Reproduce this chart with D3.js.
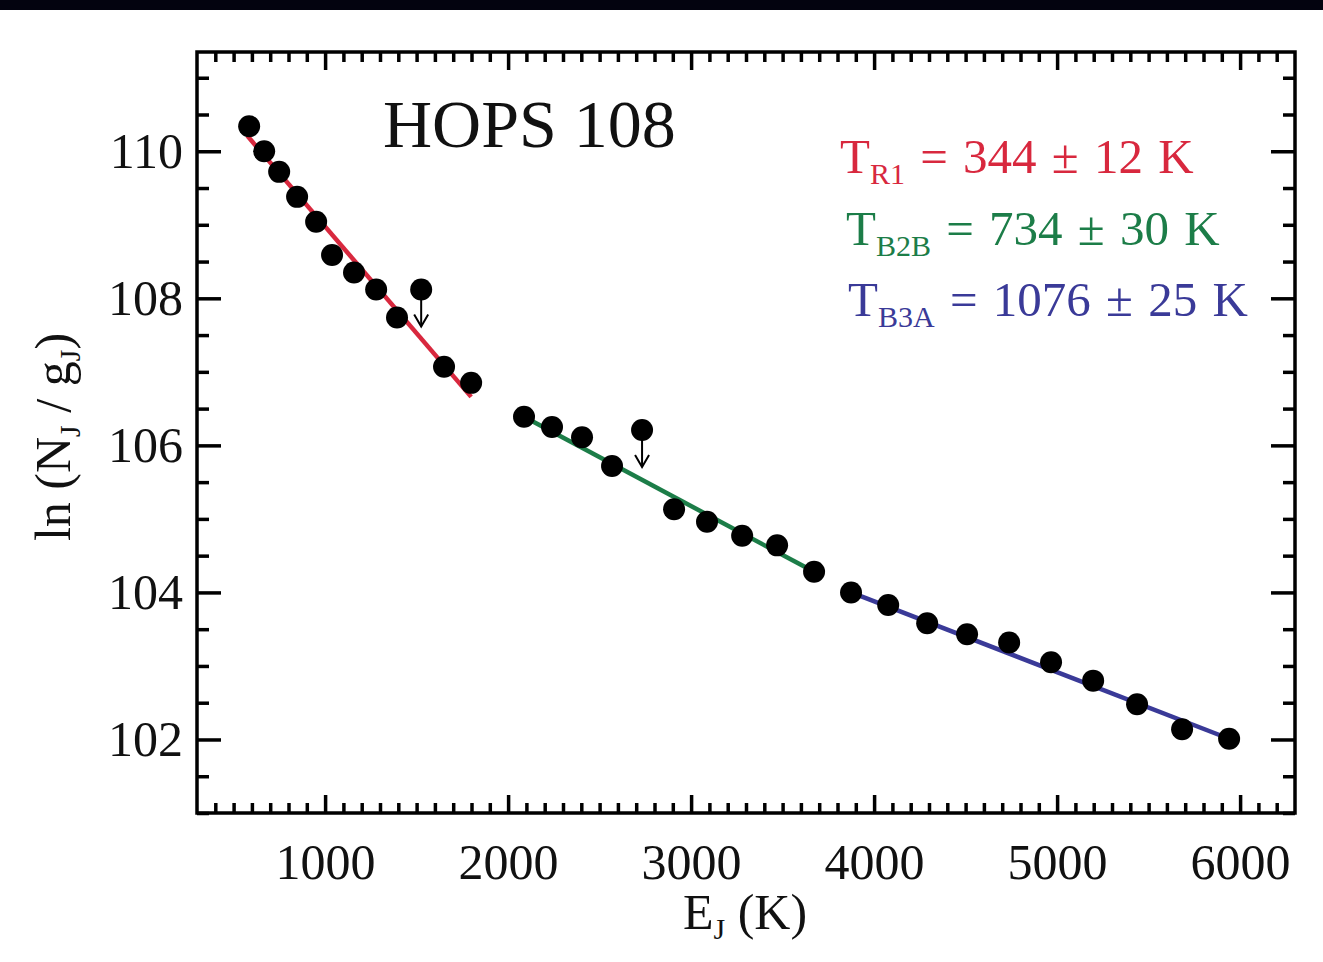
<!DOCTYPE html>
<html>
<head>
<meta charset="utf-8">
<script src="https://cdn.jsdelivr.net/npm/d3@7"></script>
<style>
  body { margin: 0; background: #fff; }
  svg { display: block; }
  text { font-family: "Liberation Serif", "Times New Roman", serif; }
</style>
</head>
<body>
<div id="chart"></div>
<script>
// rotational diagram values
const redE = [585, 667, 749, 847, 951, 1038, 1158, 1279, 1393, 1650, 1798];
const redLn = [110.34, 110.0, 109.72, 109.38, 109.04, 108.59, 108.35, 108.12, 107.74, 107.07, 106.85];
const greenE = [2087, 2240, 2404, 2568, 2907, 3087, 3279, 3470, 3672];
const greenLn = [106.39, 106.25, 106.11, 105.72, 105.13, 104.96, 104.77, 104.64, 104.28];
const blueE = [3874, 4077, 4290, 4508, 4738, 4967, 5197, 5437, 5683, 5940];
const blueLn = [104.0, 103.83, 103.58, 103.43, 103.32, 103.05, 102.80, 102.48, 102.14, 102.01];
// upper limits (dot with downward arrow)
const limitE = [1525, 2732];
const limitLn = [108.12, 106.21];
// fitted lines: [E start, ln start, E end, ln end]
const redFit = [575, 110.21, 1798, 106.66];
const greenFit = [2087, 106.39, 3672, 104.28];
const blueFit = [3874, 104.0, 5940, 102.01];

const xTicks = [1000, 2000, 3000, 4000, 5000, 6000];
const yTicks = [102, 104, 106, 108, 110];
const fitLabels = [
  { name: 'R1', value: '344 ± 12 K' },
  { name: 'B2B', value: '734 ± 30 K' },
  { name: 'B3A', value: '1076 ± 25 K' }
];
const title = 'HOPS 108';

const W = 1323, H = 962;
const box = { left: 197, right: 1295, top: 52, bottom: 813 };
const colors = ['#d8283e', '#1c7d48', '#3a3a98'];

const svg = d3.select('#chart').append('svg')
    .attr('width', W)
    .attr('height', H);

// black strip at the very top of the image
svg.append('rect').attr('x', 0).attr('y', 0).attr('width', W).attr('height', 10).attr('fill', '#03030f');

const x = d3.scaleLinear().domain([300, 6300]).range([box.left, box.right]);
const y = d3.scaleLinear().domain([101, 111.35]).range([box.bottom, box.top]);

const xMinor = d3.range(400, 6300, 100).filter(v => v % 1000 !== 0);
const yMinor = d3.range(101, 111.3, 0.5).filter(v => v % 2 !== 0);

function drawAxis(axis, tx, ty, withLabels) {
    const g = svg.append('g')
        .attr('transform', `translate(${tx},${ty})`)
        .call(axis);
    g.select('.domain').remove();
    g.selectAll('.tick line').attr('stroke', '#000').attr('stroke-width', 3.5);
    if (!withLabels) g.selectAll('.tick text').remove();
    return g;
}

// bottom
const gx = drawAxis(d3.axisBottom(x).tickValues(xTicks).tickSize(-18).tickPadding(30).tickFormat(d3.format('d')), 0, box.bottom, true);
gx.selectAll('.tick text').attr('font-size', 50).attr('fill', '#111').attr('font-family', '"Liberation Serif", serif');
drawAxis(d3.axisBottom(x).tickValues(xMinor).tickSize(-10).tickFormat(''), 0, box.bottom, false);
// top
drawAxis(d3.axisTop(x).tickValues(xTicks).tickSize(-18).tickFormat(''), 0, box.top, false);
drawAxis(d3.axisTop(x).tickValues(xMinor).tickSize(-10).tickFormat(''), 0, box.top, false);
// left
const gy = drawAxis(d3.axisLeft(y).tickValues(yTicks).tickSize(-24).tickPadding(14).tickFormat(d3.format('d')), box.left, 0, true);
gy.selectAll('.tick text').attr('font-size', 50).attr('fill', '#111').attr('font-family', '"Liberation Serif", serif');
drawAxis(d3.axisLeft(y).tickValues(yMinor).tickSize(-12).tickFormat(''), box.left, 0, false);
// right
drawAxis(d3.axisRight(y).tickValues(yTicks).tickSize(-24).tickFormat(''), box.right, 0, false);
drawAxis(d3.axisRight(y).tickValues(yMinor).tickSize(-12).tickFormat(''), box.right, 0, false);

// frame
svg.append('rect')
    .attr('x', box.left).attr('y', box.top)
    .attr('width', box.right - box.left).attr('height', box.bottom - box.top)
    .attr('fill', 'none').attr('stroke', '#000').attr('stroke-width', 3.5);

// fit lines
[redFit, greenFit, blueFit].forEach((f, i) => {
    svg.append('line')
        .attr('x1', x(f[0])).attr('y1', y(f[1]))
        .attr('x2', x(f[2])).attr('y2', y(f[3]))
        .attr('stroke', colors[i]).attr('stroke-width', 4.5);
});

// points
const pts = [];
[[redE, redLn], [greenE, greenLn], [blueE, blueLn]].forEach(([es, ls]) => {
    es.forEach((e, i) => pts.push({ e: e, ln: ls[i] }));
});
svg.append('g').selectAll('circle')
    .data(pts)
    .join('circle')
    .attr('cx', d => x(d.e))
    .attr('cy', d => y(d.ln))
    .attr('r', 11)
    .attr('fill', '#000');

// upper limits
const limits = limitE.map((e, i) => ({ e: e, ln: limitLn[i] }));
const lg = svg.append('g').selectAll('g')
    .data(limits)
    .join('g')
    .attr('transform', d => `translate(${x(d.e)},${y(d.ln)})`);
lg.append('circle').attr('r', 11).attr('fill', '#000');
lg.append('line').attr('x1', 0).attr('y1', 0).attr('x2', 0).attr('y2', 37)
    .attr('stroke', '#000').attr('stroke-width', 2);
lg.append('path').attr('d', 'M-7,25 L0,37 L7,25')
    .attr('fill', 'none').attr('stroke', '#000').attr('stroke-width', 2);

// title
svg.append('text')
    .attr('x', 383).attr('y', 147)
    .attr('font-size', 68)
    .attr('fill', '#111')
    .text(title);

// temperature labels
const labelX = [840, 846, 848];
const labelY = [173, 245, 316];
fitLabels.forEach((d, i) => {
    const t = svg.append('text')
        .attr('x', labelX[i]).attr('y', labelY[i])
        .attr('font-size', 49)
        .attr('word-spacing', 3)
        .attr('fill', colors[i]);
    t.append('tspan').text('T');
    t.append('tspan').attr('font-size', 30).attr('dy', 11).text(d.name);
    t.append('tspan').attr('dy', -11).text(' = ' + d.value);
});

// axis titles
const xt = svg.append('text')
    .attr('x', 745).attr('y', 929)
    .attr('text-anchor', 'middle')
    .attr('font-size', 50)
    .attr('fill', '#111');
xt.append('tspan').text('E');
xt.append('tspan').attr('font-size', 30).attr('dy', 10).text('J');
xt.append('tspan').attr('dy', -10).text(' (K)');

const yt = svg.append('text')
    .attr('transform', 'translate(70,437) rotate(-90)')
    .attr('text-anchor', 'middle')
    .attr('font-size', 50)
    .attr('fill', '#111');
yt.append('tspan').text('ln (N');
yt.append('tspan').attr('font-size', 30).attr('dy', 10).text('J');
yt.append('tspan').attr('dy', -10).text(' / g');
yt.append('tspan').attr('font-size', 30).attr('dy', 10).text('J');
yt.append('tspan').attr('dy', -10).text(')');
</script>
</body>
</html>
